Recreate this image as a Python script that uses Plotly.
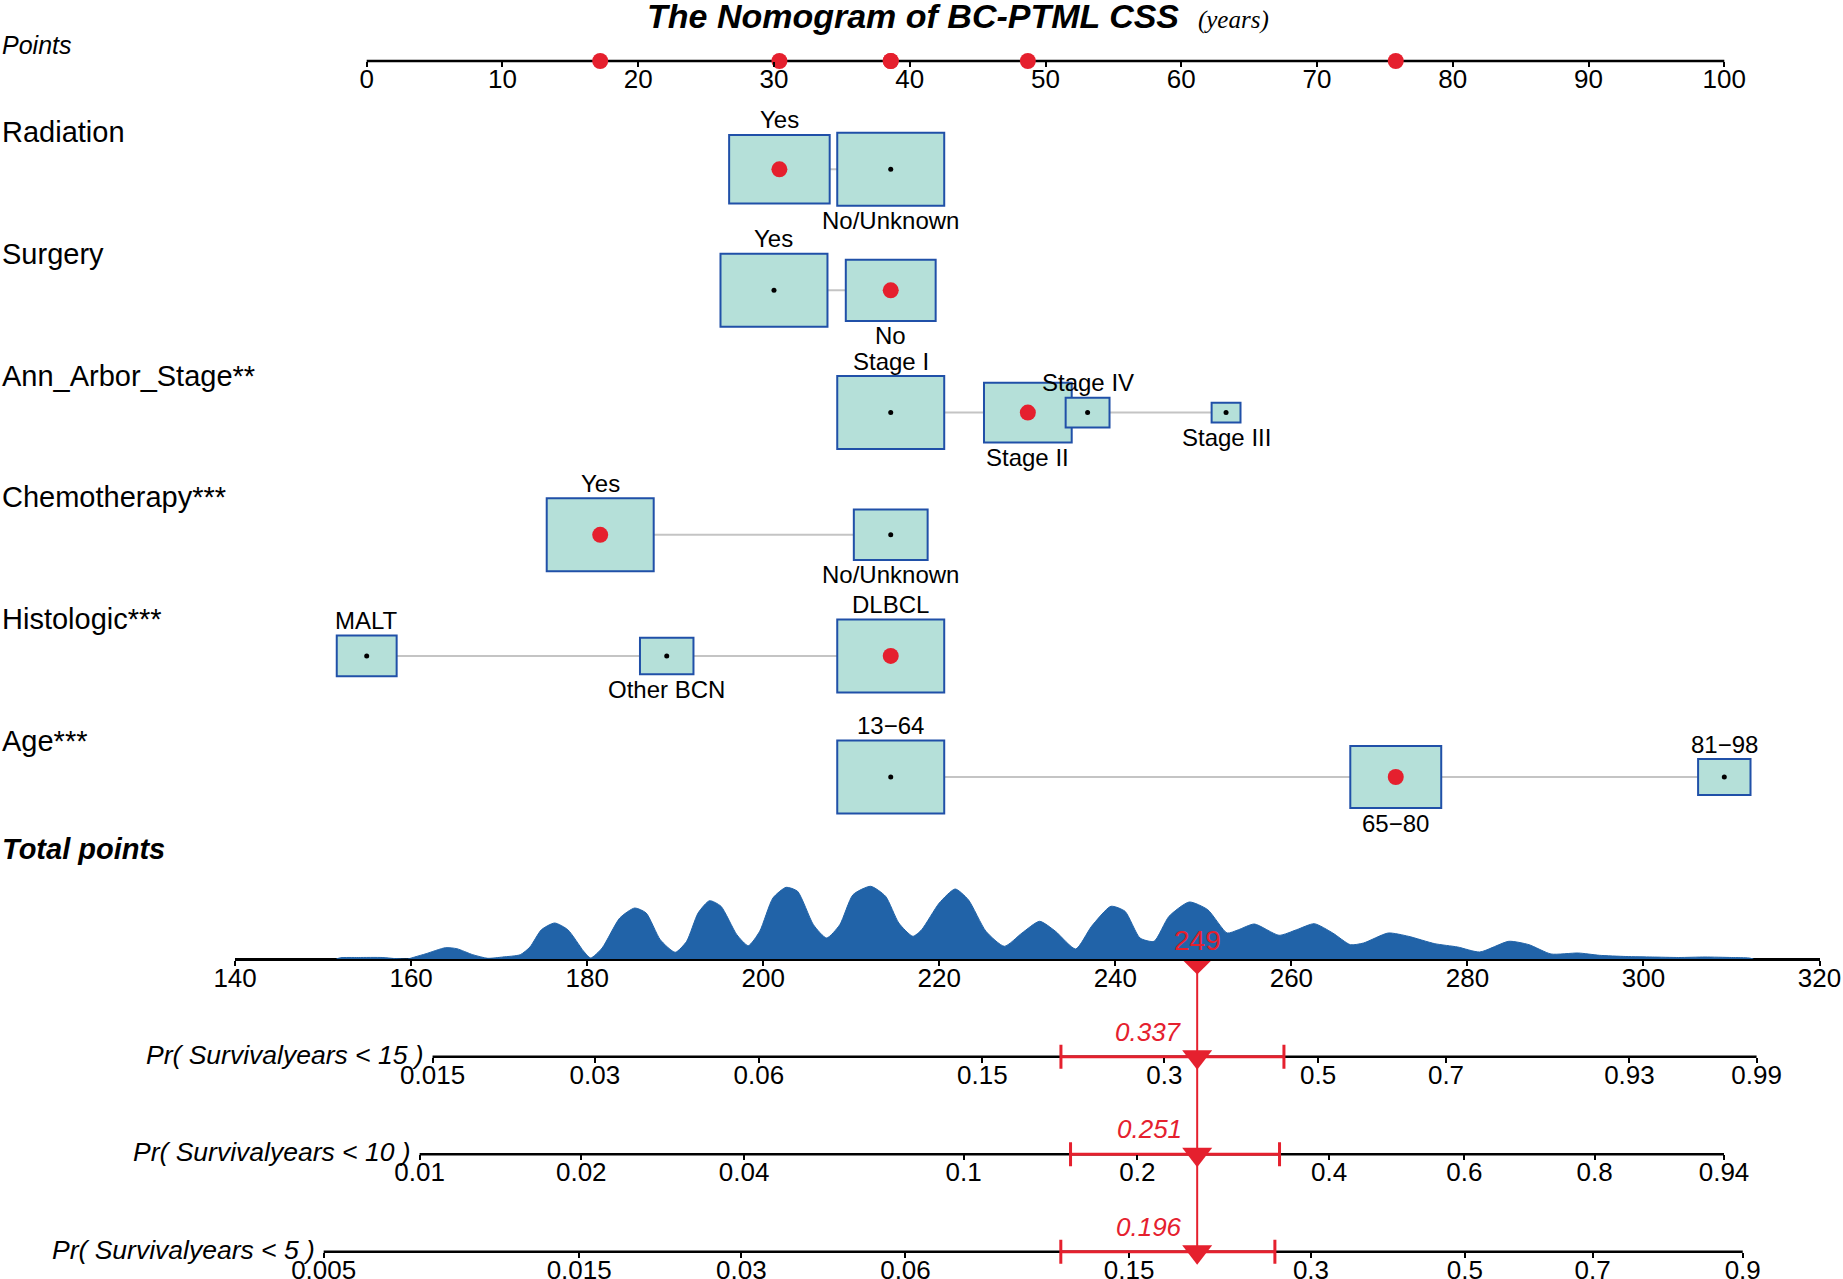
import numpy as np
import plotly.graph_objects as go

# ---- data ----
point_ticks = list(range(0, 101, 10))
total_ticks = list(range(140, 321, 20))

var_names = ["Radiation", "Surgery", "Ann_Arbor_Stage**", "Chemotherapy***", "Histologic***", "Age***"]

radiation_levels = ["Yes", "No/Unknown"]
radiation_points = [30.4, 38.6]
radiation_size = [0.94, 1.0]

surgery_levels = ["Yes", "No"]
surgery_points = [30.0, 38.6]
surgery_size = [1.0, 0.84]

stage_levels = ["Stage I", "Stage II", "Stage IV", "Stage III"]
stage_points = [38.6, 48.7, 53.1, 63.3]
stage_size = [1.0, 0.82, 0.41, 0.27]

chemo_levels = ["Yes", "No/Unknown"]
chemo_points = [17.2, 38.6]
chemo_size = [1.0, 0.69]

histo_levels = ["MALT", "Other BCN", "DLBCL"]
histo_points = [0.0, 22.1, 38.6]
histo_size = [0.56, 0.5, 1.0]

age_levels = ["13\u221264", "65\u221280", "81\u221298"]
age_points = [38.6, 75.8, 100.0]
age_size = [1.0, 0.85, 0.49]

selected = ["Yes", "No", "Stage II", "Yes", "DLBCL", "65\u221280"]

# density of total points (height)
dens_x = [151.5, 152, 154, 156.7, 158.2, 159.6, 160.4, 161.7, 163.9, 165.2, 167, 168.7, 170.4,
          172.4, 173.5, 174.8, 176.3, 177.8, 179.6, 180.4, 181.7, 183.7, 185.4, 186.7, 188.3, 190,
          191.3, 192.6, 193.9, 195.2, 197, 198.3, 199.6, 201.1, 202.6, 203.9, 205.7, 207.2, 208.7,
          210.2, 212.2, 213.9, 215.4, 217, 218, 220, 221.8, 223.3, 225.3, 227.4, 229.4, 231.4, 233.2,
          235.5, 237.3, 239.5, 241.1, 242.8, 244.4, 246.1, 248.4, 250.5, 252.7, 254, 255.8, 258.6,
          260.6, 262.6, 264.7, 266.7, 268.2, 271, 273.3, 276.3, 278.9, 281.4, 284.7, 287, 289.5,
          292.6, 295, 298, 301, 304, 307, 310, 312, 312.5]
dens_y = [0, 1.3, 1.5, 1.5, 0.4, 0, 2, 5.3, 11.3, 10.3, 4.3, 0.7, 2,
          4.3, 12, 29.3, 36, 29.3, 7.7, 1, 11, 41, 51, 46, 19.3, 6.7,
          17.7, 46, 58.3, 52.7, 24.3, 13.3, 27.7, 61, 71.7, 67.7, 34.3, 21, 34.3,
          64.3, 72.7, 62.7, 36, 22.7, 29.3, 56, 70, 59.3, 27.7, 12.7, 26, 37.7, 27.7,
          10, 32.7, 52.7, 47.7, 21, 17.7, 42.7, 57, 49.3, 26, 29.3, 35, 23.7,
          29.3, 35.3, 26, 14.3, 16, 26, 22.7, 15.3, 12, 7, 17.7, 14.3, 5,
          6, 3.7, 2.5, 2, 1.5, 2, 1.5, 1, 0]

pr_titles = ["Pr( Survivalyears &lt; 15 )", "Pr( Survivalyears &lt; 10 )", "Pr( Survivalyears &lt; 5 )"]
pr15_ticks = [0.015, 0.03, 0.06, 0.15, 0.3, 0.5, 0.7, 0.93, 0.99]
pr10_ticks = [0.01, 0.02, 0.04, 0.1, 0.2, 0.4, 0.6, 0.8, 0.94]
pr5_ticks = [0.005, 0.015, 0.03, 0.06, 0.15, 0.3, 0.5, 0.7, 0.9]
pr_pred = [0.337, 0.251, 0.196]
pr_lo = [0.204, 0.154, 0.114]
pr_hi = [0.450, 0.338, 0.263]

# ---- layout constants ----
W, H = 1843, 1279
FONT = "Liberation Sans, Arial, sans-serif"
RED = "#e5202e"
BOX_FILL = "#b5e0d9"
BOX_LINE = "#2050a8"
DENS_COL = "#2163a8"
BOX_W = 7.88      # in points units
BOX_H = 73        # in px
PTS_PER_CLL = 26.3
TICKLEN = 5
STANDOFF = -10

# points scale: 0 at px 366.7, 100 at px 1724.3 (axis spans whole width so boxes are not clipped)
PX0, PX100 = 366.7, 1724.3
ppp = (PX100 - PX0) / 100
points_range = [-PX0 / ppp, (W - PX0) / ppp]

points_y = 61
label_ys = [131.6, 254, 376, 497, 619.4, 740.5]
row_ys = [169.3, 290.3, 412.6, 534.8, 655.9, 777]
total_label_y = 848.6
total_y = 959
pr_ys = [1056.7, 1154.2, 1251.8]


def cll(p):
    p = np.asarray(p, dtype=float)
    return np.log(-np.log(1 - p))


rows = [
    (radiation_levels, radiation_points, radiation_size),
    (surgery_levels, surgery_points, surgery_size),
    (stage_levels, stage_points, stage_size),
    (chemo_levels, chemo_points, chemo_size),
    (histo_levels, histo_points, histo_size),
    (age_levels, age_points, age_size),
]

fig = go.Figure()
shapes = []
annotations = []

# points axis line
fig.add_trace(go.Scatter(x=[point_ticks[0], point_ticks[-1]], y=[points_y, points_y], mode="lines",
                         xaxis="x", yaxis="y", line=dict(color="black", width=2.5),
                         showlegend=False, hoverinfo="skip"))

sel_points = []
for i, (levels, pts, sizes) in enumerate(rows):
    yc = row_ys[i]
    # grey connector
    shapes.append(dict(type="line", xref="x", yref="y", x0=min(pts), x1=max(pts), y0=yc, y1=yc,
                       line=dict(color="#c4c4c4", width=2), layer="below"))
    order = np.argsort(pts)
    for rank, j in enumerate(order):
        s = sizes[j]
        hw, hh = BOX_W * s / 2, BOX_H * s / 2
        shapes.append(dict(type="rect", xref="x", yref="y", x0=pts[j] - hw, x1=pts[j] + hw,
                           y0=yc - hh, y1=yc + hh, fillcolor=BOX_FILL,
                           line=dict(color=BOX_LINE, width=2), layer="below"))
        above = rank % 2 == 0
        annotations.append(dict(xref="x", yref="y", x=pts[j], y=yc - hh - 15 if above else yc + hh + 15,
                                text=levels[j], showarrow=False, xanchor="center", yanchor="middle",
                                font=dict(size=24, color="black", family=FONT)))
    fig.add_trace(go.Scatter(x=pts, y=[yc] * len(pts), mode="markers", xaxis="x", yaxis="y",
                             marker=dict(color="black", size=5), showlegend=False, hoverinfo="skip"))
    k = levels.index(selected[i])
    sel_points.append(pts[k])
    fig.add_trace(go.Scatter(x=[pts[k]], y=[yc], mode="markers", xaxis="x", yaxis="y",
                             marker=dict(color=RED, size=16), showlegend=False, hoverinfo="skip"))
    annotations.append(dict(xref="paper", yref="y", x=0, y=label_ys[i], text=var_names[i],
                            showarrow=False, xanchor="left", yanchor="middle",
                            font=dict(size=29, color="black", family=FONT)))

# red dots on the points scale
fig.add_trace(go.Scatter(x=sel_points, y=[points_y] * len(sel_points), mode="markers", xaxis="x", yaxis="y",
                         marker=dict(color=RED, size=16), showlegend=False, hoverinfo="skip"))

total = sum(sel_points)

# density of total points
fig.add_trace(go.Scatter(x=dens_x, y=dens_y, mode="lines", xaxis="x2", yaxis="y2", fill="tozeroy",
                         line=dict(color=DENS_COL, width=1, shape="spline", smoothing=0.6),
                         fillcolor=DENS_COL, showlegend=False, hoverinfo="skip"))

# vertical red line and diamond
fig.add_trace(go.Scatter(x=[total, total], y=[total_y, pr_ys[-1]], mode="lines", xaxis="x2", yaxis="y",
                         line=dict(color=RED, width=2), showlegend=False, hoverinfo="skip"))
fig.add_trace(go.Scatter(x=[total], y=[total_y], mode="markers", xaxis="x2", yaxis="y",
                         marker=dict(color=RED, size=24, symbol="diamond"), showlegend=False, hoverinfo="skip"))
annotations.append(dict(xref="x2", yref="y", x=total, y=total_y - 19, text=str(int(round(total))),
                        showarrow=False, xanchor="center", yanchor="middle",
                        font=dict(size=28, color=RED, family=FONT)))

pr_ticks = [pr15_ticks, pr10_ticks, pr5_ticks]
pr_axes = {}
for i in range(3):
    ax = "x%d" % (i + 3)
    c0 = float(cll(pr_pred[i]))
    rng = [c0 - (total - 140) / PTS_PER_CLL, c0 + (320 - total) / PTS_PER_CLL]
    tv = cll(pr_ticks[i])
    pr_axes["xaxis%d" % (i + 3)] = dict(
        domain=[235.1 / W, 1819.5 / W], range=rng, anchor="free", position=1 - pr_ys[i] / H,
        showline=False, showgrid=False, zeroline=False, ticks="outside", ticklen=TICKLEN, tickwidth=1.5,
        tickcolor="black", tickvals=list(tv), ticktext=[str(t) for t in pr_ticks[i]], automargin=False,
        tickfont=dict(size=26, color="black", family=FONT), ticklabelstandoff=STANDOFF)
    # axis line from first to last tick
    fig.add_trace(go.Scatter(x=[tv[0], tv[-1]], y=[pr_ys[i], pr_ys[i]], mode="lines", xaxis=ax, yaxis="y",
                             line=dict(color="black", width=2.5), showlegend=False, hoverinfo="skip"))
    # prediction with interval
    fig.add_trace(go.Scatter(
        x=[c0], y=[pr_ys[i]], mode="markers", xaxis=ax, yaxis="y",
        marker=dict(color=RED, size=26, symbol="triangle-down"),
        error_x=dict(type="data", symmetric=False, array=[float(cll(pr_hi[i])) - c0],
                     arrayminus=[c0 - float(cll(pr_lo[i]))], color=RED, thickness=3, width=12),
        showlegend=False, hoverinfo="skip"))
    annotations.append(dict(xref=ax, yref="y", x=c0, y=pr_ys[i] - 25, text="<i>%s</i>" % pr_pred[i],
                            showarrow=False, xanchor="right", yanchor="middle", xshift=-13,
                            font=dict(size=26, color=RED, family=FONT)))
    annotations.append(dict(xref=ax, yref="y", x=float(tv[0]), y=pr_ys[i] - 2, text="<i>%s</i>" % pr_titles[i],
                            showarrow=False, xanchor="right", yanchor="middle", xshift=-7,
                            font=dict(size=26.5, color="black", family=FONT)))

# titles
annotations.append(dict(xref="paper", yref="y", x=0.52, y=16,
                        text="<b><i>The Nomogram of BC-PTML CSS</i></b>  "
                             "<span style='font-family:Liberation Serif;font-size:25px'><i>(years)</i></span>",
                        showarrow=False, xanchor="center", yanchor="middle",
                        font=dict(size=34, color="black", family=FONT)))
annotations.append(dict(xref="paper", yref="y", x=0, y=44.7, text="<i>Points</i>", showarrow=False,
                        xanchor="left", yanchor="middle", font=dict(size=25, color="black", family=FONT)))
annotations.append(dict(xref="paper", yref="y", x=0, y=total_label_y, text="<b><i>Total points</i></b>",
                        showarrow=False, xanchor="left", yanchor="middle",
                        font=dict(size=29, color="black", family=FONT)))

fig.update_layout(
    width=W, height=H, margin=dict(l=0, r=0, t=0, b=0, pad=0, autoexpand=False),
    paper_bgcolor="white", plot_bgcolor="rgba(0,0,0,0)",
    font=dict(family=FONT, color="black"),
    xaxis=dict(domain=[0, 1], range=points_range, anchor="free", position=1 - points_y / H,
               showline=False, showgrid=False, zeroline=False, automargin=False,
               ticks="outside", ticklen=TICKLEN, tickwidth=1.5, tickcolor="black", tickvals=point_ticks,
               tickfont=dict(size=26, color="black", family=FONT), ticklabelstandoff=STANDOFF),
    yaxis=dict(domain=[0, 1], range=[H, 0], visible=False, anchor="x", automargin=False),
    xaxis2=dict(domain=[235.1 / W, 1819.5 / W], range=[140, 320], anchor="free", position=1 - total_y / H,
                showline=True, linecolor="black", linewidth=2.5, showgrid=False, zeroline=False,
                ticks="outside", ticklen=TICKLEN, tickwidth=1.5, tickcolor="black", tickvals=total_ticks,
                automargin=False,
                tickfont=dict(size=26, color="black", family=FONT), ticklabelstandoff=STANDOFF),
    yaxis2=dict(domain=[1 - total_y / H, 1 - 870 / H], range=[0, 89], visible=False, anchor="x2"),
    shapes=shapes,
    annotations=annotations,
    showlegend=False,
)
fig.update_layout(**pr_axes)

# the page body has a default 8px margin; drop it so the figure fills the window exactly
fig.write_html("out.html", config={"displayModeBar": False},
               post_script="document.body.style.margin='0';document.body.style.overflow='hidden';")
